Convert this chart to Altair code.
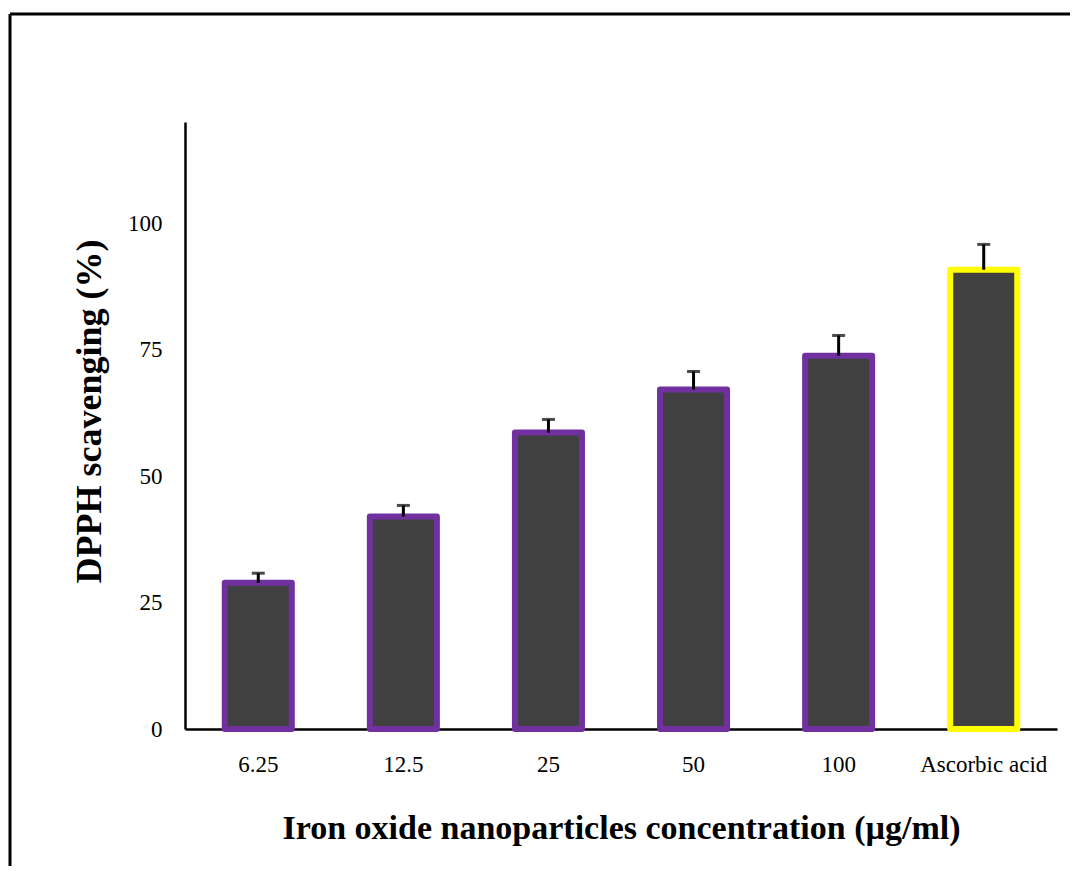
import altair as alt
import pandas as pd

categories = ["6.25", "12.5", "25", "50", "100", "Ascorbic acid"]
scavenging = [28.9, 42.0, 58.6, 67.1, 73.8, 90.8]
errors = [1.9, 2.2, 2.6, 3.6, 4.0, 5.0]
y_ticks = [0, 25, 50, 75, 100]

df = pd.DataFrame({"category": categories, "value": scavenging, "err": errors})

FONT = "Liberation Serif"

x_enc = alt.X(
    "category:N",
    sort=categories,
    scale=alt.Scale(paddingInner=0.538, paddingOuter=0.274),
    axis=alt.Axis(
        title="Iron oxide nanoparticles concentration (µg/ml)",
        titleFont=FONT, titleFontSize=34, titleFontWeight="bold", titleColor="black",
        titleBaseline="alphabetic", titleY=109,
        labelFont=FONT, labelFontSize=23, labelColor="black", labelAngle=0,
        labelPadding=24, ticks=False, domainColor="black", domainWidth=2.5,
    ),
)
y_enc = alt.Y(
    "value:Q",
    scale=alt.Scale(domain=[0, 120], nice=False),
    axis=alt.Axis(
        title="DPPH scavenging (%)",
        titleFont=FONT, titleFontSize=36, titleFontWeight="bold", titleColor="black",
        titleX=-77, titleY=289, titleAlign="center", titleBaseline="bottom", titleAngle=270,
        labelFont=FONT, labelFontSize=23, labelColor="black",
        labelPadding=23, ticks=False, grid=False, values=y_ticks,
        domainColor="black", domainWidth=2.5,
    ),
)

base = alt.Chart(df)

bars = base.mark_bar(fill="#404040", strokeWidth=6, strokeJoin="round").encode(
    x=x_enc,
    y=y_enc,
    stroke=alt.condition(
        alt.datum.category == "Ascorbic acid", alt.value("#FFFF00"), alt.value("#7030A0")
    ),
)

err_rule = base.transform_calculate(upper="datum.value + datum.err").mark_rule(
    color="black", strokeWidth=3
).encode(
    x=alt.X("category:N", sort=categories),
    y="value:Q",
    y2="upper:Q",
)

err_cap = base.transform_calculate(upper="datum.value + datum.err").mark_tick(
    color="black", thickness=3, size=13, orient="horizontal"
).encode(
    x=alt.X("category:N", sort=categories),
    y="upper:Q",
)

frame_data = alt.Data(values=[{"k": 1}])
frame_top = alt.Chart(frame_data).mark_rule(color="black", strokeWidth=3).encode(
    x=alt.value(-175), x2=alt.value(885), y=alt.value(-108)
)
frame_left = alt.Chart(frame_data).mark_rule(color="black", strokeWidth=3).encode(
    x=alt.value(-175), y=alt.value(-108), y2=alt.value(746)
)

chart = (
    alt.layer(bars, err_rule, err_cap, frame_top, frame_left)
    .properties(
        width=872,
        height=607,
        autosize=alt.AutoSizeParams(type="none"),
        padding={"left": 177, "top": 114, "right": 13, "bottom": 137},
        background="white",
    )
    .configure_view(stroke=None)
)

chart.save("out.html", embed_options={"renderer": "svg", "actions": False})
